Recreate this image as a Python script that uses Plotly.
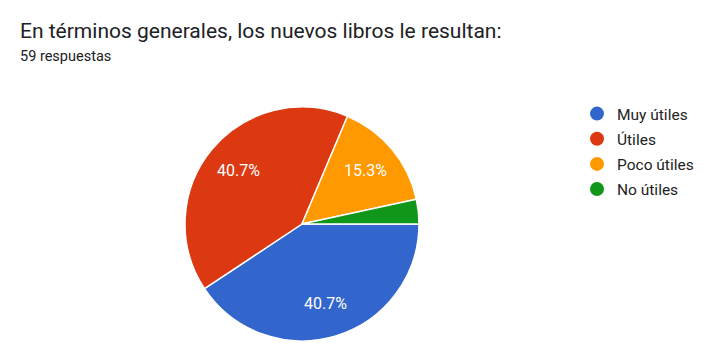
import math
import plotly.graph_objects as go

title = "En términos generales, los nuevos libros le resultan:"
subtitle = "59 respuestas"
labels = ["Muy útiles", "Útiles", "Poco útiles", "No útiles"]
counts = [24, 24, 9, 2]
colors = ["#3366CC", "#DC3912", "#FF9900", "#109618"]
min_label_pct = 5.0

FONT = "Roboto, Arial, sans-serif"
W, H = 728, 351
cx_px, cy_px, r_px = 302, 224, 117
dom_x = [(cx_px - r_px) / W, (cx_px + r_px) / W]
dom_y = [1 - (cy_px + r_px) / H, 1 - (cy_px - r_px) / H]

fig = go.Figure()
fig.add_trace(go.Pie(
    labels=labels, values=counts,
    textinfo="none",
    marker=dict(colors=colors, line=dict(color="white", width=1.5)),
    sort=False, direction="clockwise", rotation=90,
    domain=dict(x=dom_x, y=dom_y),
    showlegend=False, hoverinfo="label+percent",
))
for i, (lab, col) in enumerate(zip(labels, colors)):
    fig.add_trace(go.Scatter(
        x=[None], y=[None], mode="markers", name=lab,
        marker=dict(symbol="circle", size=14, color=col),
        legendgroup=f"g{i}", showlegend=True,
    ))

# slice percentage labels placed along each slice's bisector
total = sum(counts)
annotations = []
start = 0.0
for c in counts:
    frac = c / total
    mid = (start + frac / 2) * 2 * math.pi  # clockwise from 3 o'clock
    start += frac
    pct = 100 * frac
    if pct < min_label_pct:
        continue
    rr = 0.71 * r_px
    x = (cx_px + rr * math.cos(mid)) / W
    y = 1 - (cy_px + rr * math.sin(mid)) / H
    annotations.append(dict(text=f"{pct:.1f}%", xref="paper", yref="paper", x=x, y=y,
                            xanchor="center", yanchor="middle", showarrow=False,
                            font=dict(family=FONT, size=16, color="white")))

annotations += [
    dict(text=title, xref="paper", yref="paper", x=18 / W, y=1 - 31 / H,
         xanchor="left", yanchor="middle", showarrow=False,
         font=dict(family=FONT, size=21, color="#202124")),
    dict(text=subtitle, xref="paper", yref="paper", x=18 / W, y=1 - 57 / H,
         xanchor="left", yanchor="middle", showarrow=False,
         font=dict(family=FONT, size=14.5, color="#202124")),
]

fig.update_layout(
    width=W, height=H,
    margin=dict(l=0, r=0, t=0, b=0),
    paper_bgcolor="white", plot_bgcolor="white",
    xaxis=dict(visible=False), yaxis=dict(visible=False),
    legend=dict(x=577 / W, y=1 - 97 / H, xanchor="left", yanchor="top",
                font=dict(family=FONT, size=15.5, color="#222222"),
                tracegroupgap=2, itemwidth=30, bgcolor="rgba(0,0,0,0)"),
    annotations=annotations,
)
fig.write_html("out.html")
